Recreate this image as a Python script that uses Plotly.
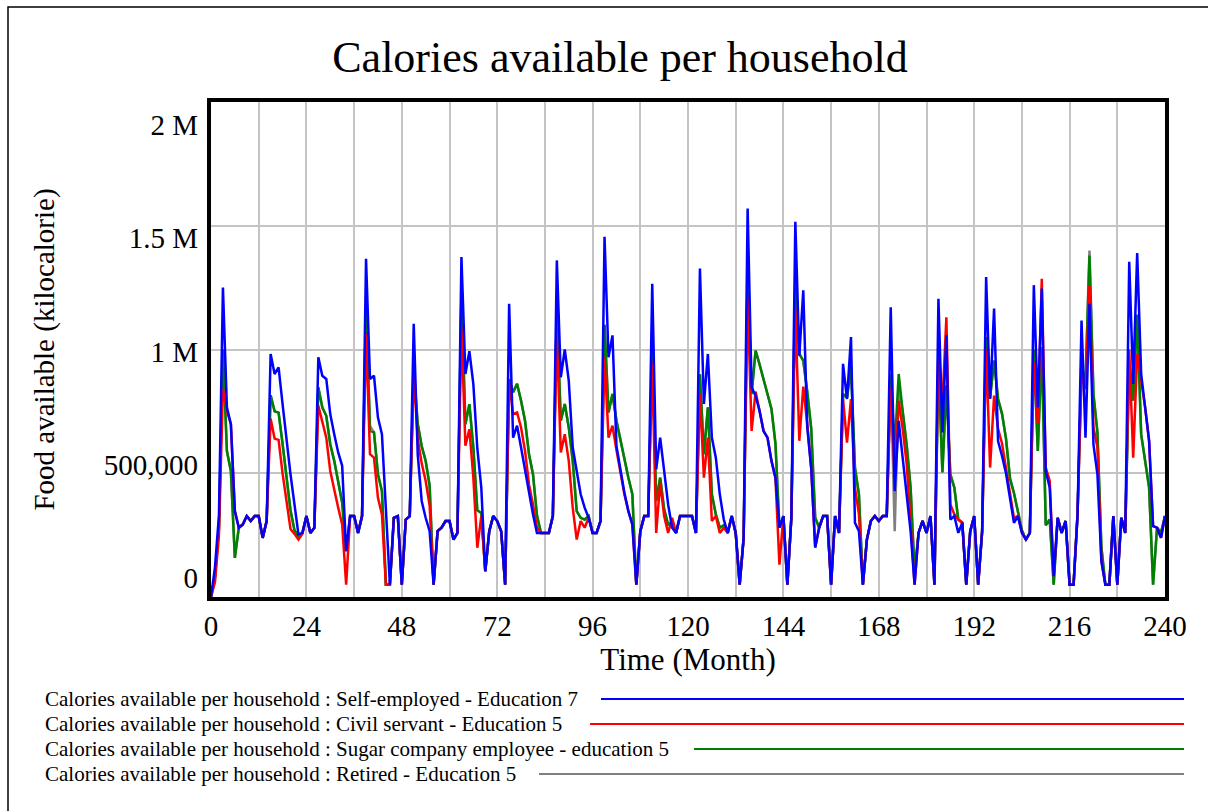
import plotly.graph_objects as go

# ---------------- data ----------------
months = list(range(0, 241))

self_employed_edu7 = [
    0, 120000, 330000, 1250000, 766000, 698000, 347000, 280000, 293000, 327000, 307000, 327000,
    327000, 239000, 307000, 982000, 901000, 928000, 780000, 631000, 496000, 374000, 253000, 259000,
    327000, 259000, 280000, 969000, 894000, 881000, 739000, 658000, 584000, 530000, 185000, 327000,
    327000, 259000, 327000, 1367000, 881000, 894000, 725000, 658000, 380000, 50000, 320000, 327000,
    50000, 313000, 327000, 1104000, 577000, 388000, 320000, 266000, 50000, 266000, 280000, 307000,
    307000, 232000, 259000, 1374000, 901000, 993000, 860000, 600000, 442000, 104000, 266000, 327000,
    307000, 266000, 50000, 1185000, 644000, 692000, 604000, 509000, 415000, 334000, 259000, 259000,
    259000, 259000, 327000, 1360000, 888000, 1000000, 874000, 604000, 509000, 415000, 361000, 320000,
    259000, 259000, 307000, 1455000, 969000, 1057000, 610000, 509000, 421000, 347000, 293000, 50000,
    266000, 327000, 327000, 1266000, 516000, 644000, 509000, 374000, 280000, 259000, 327000, 327000,
    327000, 327000, 259000, 1327000, 780000, 982000, 644000, 563000, 415000, 313000, 259000, 327000,
    259000, 50000, 239000, 1570000, 847000, 813000, 752000, 671000, 644000, 550000, 482000, 280000,
    327000, 50000, 320000, 1516000, 975000, 1239000, 685000, 520000, 200000, 280000, 327000, 327000,
    50000, 327000, 259000, 942000, 800000, 1050000, 300000, 266000, 50000, 232000, 307000, 327000,
    307000, 327000, 327000, 1171000, 428000, 712000, 563000, 415000, 266000, 50000, 259000, 307000,
    259000, 327000, 50000, 1205000, 665000, 1057000, 313000, 327000, 259000, 300000, 50000, 266000,
    327000, 50000, 266000, 1293000, 800000, 1165000, 630000, 570000, 500000, 400000, 300000, 327000,
    259000, 232000, 259000, 1260000, 766000, 1246000, 509000, 442000, 84000, 320000, 259000, 307000,
    50000, 50000, 334000, 1117000, 644000, 1185000, 617000, 496000, 145000, 50000, 50000, 327000,
    50000, 320000, 259000, 1354000, 861000, 1390000, 901000, 766000, 631000, 286000, 280000, 239000,
    327000,
]

civil_servant_edu5 = [
    0, 60000, 250000, 843000, 752000, 698000, 347000, 280000, 293000, 327000, 307000, 327000,
    327000, 239000, 307000, 720000, 640000, 635000, 500000, 380000, 275000, 255000, 232000, 256000,
    327000, 259000, 280000, 773000, 705000, 644000, 509000, 428000, 361000, 293000, 50000, 327000,
    327000, 259000, 327000, 1063000, 577000, 563000, 401000, 334000, 50000, 50000, 320000, 327000,
    50000, 313000, 327000, 900000, 640000, 540000, 470000, 370000, 50000, 266000, 280000, 307000,
    307000, 232000, 259000, 1090000, 611000, 678000, 482000, 199000, 327000, 104000, 266000, 327000,
    307000, 266000, 50000, 870000, 739000, 746000, 685000, 590000, 455000, 374000, 280000, 259000,
    259000, 259000, 327000, 1063000, 584000, 658000, 550000, 361000, 232000, 307000, 280000, 320000,
    259000, 259000, 307000, 970000, 644000, 692000, 594000, 509000, 415000, 347000, 293000, 50000,
    266000, 327000, 327000, 950000, 259000, 462000, 327000, 259000, 320000, 259000, 327000, 327000,
    327000, 327000, 259000, 820000, 482000, 644000, 307000, 327000, 259000, 280000, 259000, 327000,
    259000, 50000, 239000, 1210000, 671000, 830000, 752000, 671000, 644000, 550000, 482000, 131000,
    327000, 50000, 320000, 1170000, 631000, 850000, 700000, 520000, 200000, 280000, 327000, 327000,
    50000, 327000, 259000, 800000, 624000, 800000, 442000, 334000, 50000, 232000, 307000, 327000,
    307000, 327000, 327000, 850000, 480000, 793000, 680000, 540000, 300000, 50000, 259000, 307000,
    259000, 327000, 50000, 1000000, 780000, 1130000, 374000, 334000, 313000, 300000, 50000, 266000,
    327000, 50000, 266000, 1000000, 523000, 814000, 680000, 620000, 520000, 420000, 320000, 327000,
    259000, 232000, 259000, 950000, 700000, 1286000, 523000, 469000, 84000, 320000, 259000, 307000,
    50000, 50000, 334000, 900000, 840000, 1260000, 685000, 604000, 145000, 50000, 50000, 327000,
    50000, 320000, 259000, 1000000, 563000, 982000, 870000, 766000, 631000, 286000, 280000, 239000,
    327000,
]

sugar_company_edu5 = [
    0, 80000, 280000, 1000000, 590000, 509000, 158000, 280000, 293000, 327000, 307000, 327000,
    327000, 239000, 307000, 815000, 750000, 745000, 620000, 480000, 350000, 270000, 245000, 259000,
    327000, 259000, 280000, 847000, 766000, 732000, 617000, 550000, 462000, 381000, 185000, 327000,
    327000, 259000, 327000, 1180000, 671000, 665000, 496000, 428000, 50000, 50000, 320000, 327000,
    50000, 313000, 327000, 920000, 700000, 610000, 550000, 450000, 50000, 266000, 280000, 307000,
    307000, 232000, 259000, 1220000, 698000, 779000, 604000, 350000, 340000, 104000, 266000, 327000,
    307000, 266000, 50000, 880000, 827000, 861000, 793000, 712000, 577000, 496000, 330000, 259000,
    259000, 259000, 327000, 1150000, 712000, 780000, 685000, 550000, 347000, 320000, 313000, 327000,
    259000, 259000, 307000, 1100000, 746000, 820000, 712000, 631000, 563000, 482000, 415000, 50000,
    266000, 327000, 327000, 1000000, 388000, 482000, 354000, 293000, 300000, 259000, 327000, 327000,
    327000, 327000, 259000, 900000, 577000, 766000, 415000, 334000, 280000, 290000, 259000, 327000,
    259000, 50000, 239000, 1320000, 820000, 996000, 940000, 880000, 830000, 760000, 620000, 280000,
    327000, 50000, 320000, 1300000, 982000, 955000, 830000, 680000, 320000, 280000, 327000, 327000,
    50000, 327000, 259000, 820000, 806000, 928000, 523000, 415000, 50000, 232000, 307000, 327000,
    307000, 327000, 327000, 900000, 600000, 901000, 752000, 617000, 442000, 100000, 259000, 307000,
    259000, 327000, 50000, 950000, 503000, 854000, 496000, 442000, 313000, 300000, 50000, 266000,
    327000, 50000, 266000, 1050000, 806000, 955000, 800000, 740000, 640000, 480000, 420000, 350000,
    270000, 232000, 259000, 1000000, 590000, 1010000, 290000, 313000, 50000, 320000, 259000, 307000,
    50000, 50000, 334000, 930000, 870000, 1380000, 820000, 665000, 200000, 50000, 50000, 327000,
    50000, 320000, 259000, 950000, 793000, 1140000, 658000, 550000, 442000, 50000, 280000, 260000,
    327000,
]

retired_edu5 = [
    0, 80000, 280000, 1000000, 590000, 509000, 158000, 280000, 293000, 327000, 307000, 327000,
    327000, 239000, 307000, 815000, 750000, 745000, 620000, 480000, 350000, 270000, 245000, 259000,
    327000, 259000, 280000, 847000, 766000, 732000, 617000, 550000, 462000, 381000, 185000, 327000,
    327000, 259000, 327000, 1180000, 690000, 665000, 496000, 428000, 50000, 50000, 320000, 327000,
    50000, 313000, 327000, 920000, 700000, 610000, 550000, 450000, 50000, 266000, 280000, 307000,
    307000, 232000, 259000, 1220000, 698000, 779000, 604000, 350000, 340000, 104000, 266000, 327000,
    307000, 266000, 50000, 880000, 827000, 861000, 793000, 712000, 577000, 496000, 330000, 259000,
    259000, 259000, 327000, 1170000, 712000, 780000, 685000, 550000, 347000, 320000, 313000, 327000,
    259000, 259000, 307000, 1100000, 746000, 820000, 712000, 631000, 563000, 482000, 415000, 50000,
    266000, 327000, 327000, 1000000, 388000, 482000, 354000, 293000, 300000, 259000, 327000, 327000,
    327000, 327000, 259000, 900000, 577000, 766000, 415000, 334000, 280000, 290000, 259000, 327000,
    259000, 50000, 239000, 1320000, 820000, 996000, 940000, 880000, 830000, 760000, 620000, 280000,
    327000, 50000, 320000, 1300000, 982000, 955000, 830000, 680000, 320000, 280000, 327000, 327000,
    50000, 327000, 259000, 820000, 806000, 928000, 523000, 415000, 50000, 232000, 307000, 327000,
    307000, 327000, 327000, 900000, 266000, 850000, 752000, 617000, 442000, 100000, 259000, 307000,
    259000, 327000, 50000, 950000, 503000, 854000, 496000, 442000, 313000, 300000, 50000, 266000,
    327000, 50000, 266000, 1050000, 806000, 955000, 800000, 740000, 640000, 480000, 420000, 350000,
    270000, 232000, 259000, 1000000, 590000, 1010000, 290000, 313000, 50000, 320000, 259000, 307000,
    50000, 50000, 334000, 930000, 870000, 1400000, 820000, 665000, 200000, 50000, 50000, 327000,
    50000, 320000, 259000, 950000, 793000, 1140000, 658000, 550000, 442000, 50000, 280000, 260000,
    327000,
]

series_labels = [
    "Calories available per household : Self-employed - Education 7",
    "Calories available per household : Civil servant - Education 5",
    "Calories available per household : Sugar company employee - education 5",
    "Calories available per household : Retired - Education 5",
]
series_values = [self_employed_edu7, civil_servant_edu5, sugar_company_edu5, retired_edu5]
series_colors = ["#0000ff", "#ff0000", "#008000", "#808080"]

x_tick_values = list(range(0, 241, 24))
y_tick_values = [0, 500000, 1000000, 1500000, 2000000]
y_tick_text = ["0", "500,000", "1 M", "1.5 M", "2 M"]

# ---------------- layout geometry ----------------
W, H = 1208, 811
PL, PR, PT, PB = 211, 1165, 102, 597
FONT = "Liberation Serif, Times New Roman, serif"


def px_x(px):
    return (px - PL) / (PR - PL)


def px_y(py):
    return (PB - py) / (PB - PT)


fig = go.Figure()

# draw retired first (bottom) ... self-employed last (top)
for name, vals, col in reversed(list(zip(series_labels, series_values, series_colors))):
    fig.add_trace(go.Scatter(x=months, y=vals, mode="lines", name=name,
                             line=dict(color=col, width=2.5), showlegend=False))

# empty trace so that the labelled value axis (y2) is drawn
fig.add_trace(go.Scatter(x=[], y=[], yaxis="y2", showlegend=False, hoverinfo="skip"))

grid_col = "#c4c4c4"
fig.update_layout(
    width=W, height=H,
    margin=dict(l=PL, r=W - PR, t=PT, b=H - PB),
    paper_bgcolor="white", plot_bgcolor="white",
    font=dict(family=FONT, color="black"),
    title=dict(text="Calories available per household", x=620 / W, xref="container",
               xanchor="center", y=1 - 57 / H, yref="container", yanchor="middle",
               font=dict(size=44, family=FONT, color="black")),
    xaxis=dict(range=[0, 240], tickvals=x_tick_values, showgrid=True, gridcolor=grid_col,
               gridwidth=2, minor=dict(dtick=12, tick0=0, showgrid=True, gridcolor=grid_col,
                                       gridwidth=2),
               showline=True, linecolor="black", linewidth=4, mirror=True, ticks="",
               zeroline=False, tickfont=dict(size=29, family=FONT),
               title=dict(text="Time (Month)", font=dict(size=31, family=FONT), standoff=6)),
    yaxis=dict(range=[0, 2000000], dtick=500000, showgrid=True, gridcolor=grid_col, gridwidth=2,
               showticklabels=False, showline=True, linecolor="black", linewidth=4,
               mirror=True, ticks="", zeroline=False),
    yaxis2=dict(overlaying="y", side="left", anchor="x",
                range=[-83900, 2101500], tickvals=y_tick_values, ticktext=y_tick_text,
                showgrid=False, showline=False, zeroline=False, ticks="",
                tickfont=dict(size=29, family=FONT), ticklabelstandoff=12,
                title=dict(text="Food available (kilocalorie)", font=dict(size=29, family=FONT),
                           standoff=40)),
)

# legend rows: text followed by a coloured line (Vensim style)
legend_rows_y = [699, 724, 749, 774]
legend_line_start = [601, 590, 694, 539]
legend_line_end = 1184
shapes = []
annotations = []
for lab, col, yy, xs in zip(series_labels, series_colors, legend_rows_y, legend_line_start):
    annotations.append(dict(text=lab, x=px_x(43), y=px_y(yy), xref="paper", yref="paper",
                            xanchor="left", yanchor="middle", showarrow=False,
                            font=dict(size=21, family=FONT, color="black")))
    shapes.append(dict(type="line", xref="paper", yref="paper", x0=px_x(xs), x1=px_x(legend_line_end),
                       y0=px_y(yy), y1=px_y(yy), line=dict(color=col, width=2)))

# outer frame of the whole picture (runs off the right and bottom edges, as in the reference)
shapes.append(dict(type="rect", xref="paper", yref="paper", x0=px_x(8), x1=px_x(1220),
                   y0=px_y(7), y1=px_y(825), line=dict(color="black", width=1.5),
                   fillcolor="rgba(0,0,0,0)", layer="below"))

fig.update_layout(shapes=shapes, annotations=annotations)

fig.write_html("out.html", config={"displayModeBar": False},
               post_script="document.body.style.margin='0';")
